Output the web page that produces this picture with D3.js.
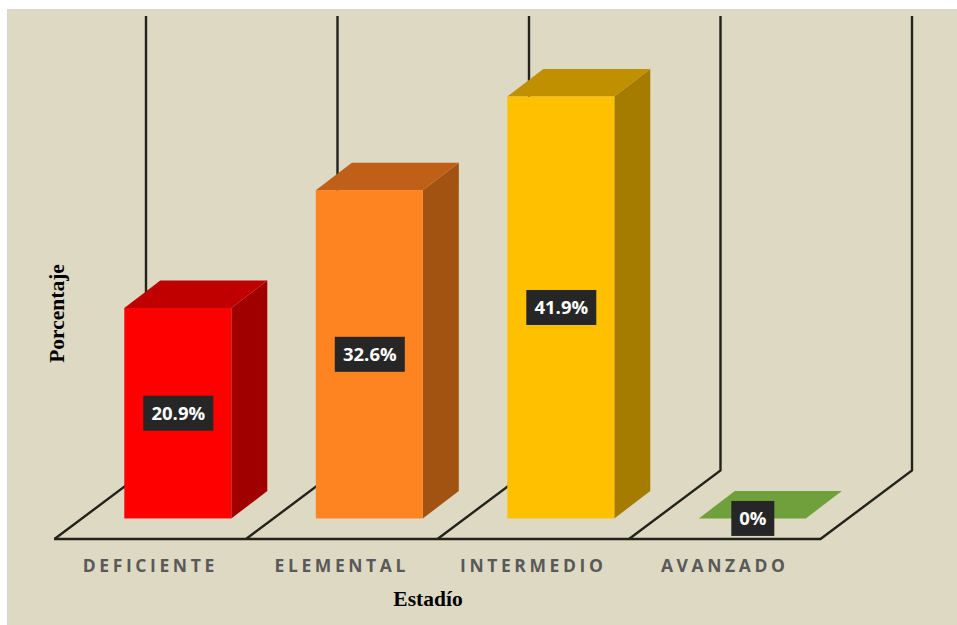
<!DOCTYPE html>
<html>
<head>
<meta charset="utf-8">
<script src="https://cdn.jsdelivr.net/npm/d3@7"></script>
<style>
  html, body { margin: 0; padding: 0; background: #fff; }
  svg { display: block; }
</style>
</head>
<body>
<svg id="graph"></svg>
<script>
const CATEGORIES = ['DEFICIENTE', 'ELEMENTAL', 'INTERMEDIO', 'AVANZADO'];
const VALUES = [20.9, 32.6, 41.9, 0];
const VALUE_LABELS = ['20.9%', '32.6%', '41.9%', '0%'];
const FRONT_COLORS = ['#ff0000', '#fe8321', '#ffc000', '#70a03c'];
const SIDE_COLORS = ['#a00000', '#a25312', '#a67c00', '#4a6b28'];
const TOP_COLORS = ['#c00000', '#c06018', '#c09000', '#70a03c'];

const width = 957;
const height = 625;

// Floor is a sheared plane, depth 0 = front edge, depth 1 = back wall
const floorY = 539;
const shear = {x: 91.5, y: -68.5};
const barDepth = {front: 0.3, back: 0.7};
const barWidth = 107;

const x = d3.scaleBand(CATEGORIES, [54.5, 820.5]);
// Heights measured at the bars' front face
const y = d3.scaleLinear([0, 50], [0, 503.5]);
const wallHeight = 454.5;

const graph = d3.select('#graph')
  .attr('width', width)
  .attr('height', height);

graph.append('rect')
  .attr('x', 7.5)
  .attr('y', 9.5)
  .attr('width', width)
  .attr('height', height)
  .attr('fill', '#ded9c3')
  .attr('stroke', '#d6d6d6');

// Walls and floor dividers
const dividers = d3.range(CATEGORIES.length + 1).map(i => x.range()[0] + i * x.bandwidth());
const wallLine = d3.line();

graph.append('g')
  .selectAll('path')
  .data(dividers).enter()
  .append('path')
    .attr('fill', 'none')
    .attr('stroke', '#23231a')
    .attr('stroke-width', 2.4)
    .attr('d', d => wallLine([
      [d, floorY],
      [d + shear.x, floorY + shear.y],
      [d + shear.x, floorY + shear.y - wallHeight]
    ]));

graph.append('path')
  .attr('fill', 'none')
  .attr('stroke', '#23231a')
  .attr('stroke-width', 2.6)
  .attr('d', wallLine([[54, floorY], [821, floorY]]));

// Bars
const bars = graph.append('g')
  .selectAll('g')
  .data(CATEGORIES).enter()
  .append('g');

const frontLeft = (d) => x(d) + 69.8;
const baseY = floorY + shear.y * barDepth.front;
const offX = 36;
const offY = shear.y * (barDepth.back - barDepth.front);
const poly = pts => pts.map(p => p.join(',')).join(' ');

bars.append('polygon')
  .attr('fill', (d, i) => SIDE_COLORS[i])
  .attr('points', (d, i) => {
    const r = frontLeft(d) + barWidth;
    const t = baseY - y(VALUES[i]);
    return poly([[r, baseY], [r + offX, baseY + offY], [r + offX, t + offY], [r, t]]);
  });

bars.append('polygon')
  .attr('fill', (d, i) => TOP_COLORS[i])
  .attr('points', (d, i) => {
    const l = frontLeft(d);
    const t = baseY - y(VALUES[i]);
    return poly([[l, t], [l + offX, t + offY], [l + barWidth + offX, t + offY], [l + barWidth, t]]);
  });

bars.append('rect')
  .attr('fill', (d, i) => FRONT_COLORS[i])
  .attr('x', d => frontLeft(d))
  .attr('y', (d, i) => baseY - y(VALUES[i]))
  .attr('width', barWidth)
  .attr('height', (d, i) => y(VALUES[i]));

// Value labels, centred on the front face
const labels = bars.append('g')
  .attr('transform', (d, i) => `translate(${frontLeft(d) + barWidth / 2 + 0.5}, ${baseY - y(VALUES[i]) / 2})`);

labels.append('rect')
  .attr('x', (d, i) => VALUES[i] === 0 ? -21.5 : -35)
  .attr('y', -17.5)
  .attr('width', (d, i) => VALUES[i] === 0 ? 43 : 70)
  .attr('height', 35)
  .attr('fill', '#262626');

labels.append('text')
  .text((d, i) => VALUE_LABELS[i])
  .attr('text-anchor', 'middle')
  .attr('dy', '0.36em')
  .attr('fill', '#fff')
  .attr('font-family', '"Open Sans", sans-serif')
  .attr('font-weight', 700)
  .attr('font-size', 18.5);

// Category axis
const axis = graph.append('g')
  .attr('transform', `translate(0, ${floorY})`)
  .call(d3.axisBottom(x).tickSize(0).tickPadding(20.5));

axis.select('.domain').remove();
axis.selectAll('text')
  .attr('fill', '#595959')
  .attr('font-family', '"Open Sans", sans-serif')
  .attr('font-weight', 700)
  .attr('font-size', 17.5)
  .attr('letter-spacing', 3.6);

// Axis titles
graph.append('text')
  .text('Estadío')
  .attr('x', 428)
  .attr('y', 606)
  .attr('text-anchor', 'middle')
  .attr('font-family', '"Liberation Serif", serif')
  .attr('font-weight', 700)
  .attr('font-size', 21.5);

graph.append('text')
  .text('Porcentaje')
  .attr('transform', 'translate(64, 313.5) rotate(-90)')
  .attr('text-anchor', 'middle')
  .attr('font-family', '"Liberation Serif", serif')
  .attr('font-weight', 700)
  .attr('font-size', 21.5);
</script>
</body>
</html>
